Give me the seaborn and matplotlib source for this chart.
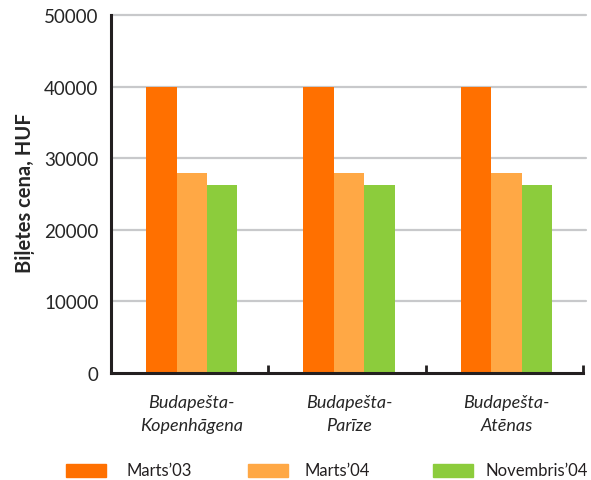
import matplotlib
matplotlib.use("Agg")
import matplotlib.pyplot as plt
import matplotlib.patches as mpatches
import seaborn as sns
import pandas as pd

routes = ["Budapešta-\nKopenhāgena", "Budapešta-\nParīze", "Budapešta-\nAtēnas"]
periods = ["Marts\u201903", "Marts\u201904", "Novembris\u201904"]
marts03 = [40000, 40000, 40000]
marts04 = [28000, 28000, 28000]
nov04 = [26200, 26200, 26200]
colors = ["#FF7000", "#FFA845", "#8CCC3C"]
yticks = [0, 10000, 20000, 30000, 40000, 50000]

rows = []
for series, vals in zip(periods, [marts03, marts04, nov04]):
    for r, v in zip(routes, vals):
        rows.append({"route": r, "period": series, "price": v})
df = pd.DataFrame(rows)

sns.set_style("white")
plt.rcParams["font.family"] = ["Lato", "DejaVu Sans"]

W, H = 591, 481
fig = plt.figure(figsize=(W / 100, H / 100), dpi=100)
ax = fig.add_axes([111 / W, 1 - 374 / H, (583 - 111) / W, (374 - 16) / H])

sns.barplot(data=df, x="route", y="price", hue="period", hue_order=periods,
            palette=colors, width=0.58, saturation=1, ax=ax, legend=False,
            linewidth=0, errorbar=None)

ax.set_ylim(0, 50000)
ax.set_xlim(-0.513, 2.487)
ax.set_yticks(yticks)
ax.set_yticklabels([str(t) for t in yticks], fontsize=13.5)
for t in yticks[1:]:
    ax.axhline(t, xmax=1.006, color="#C8C9CB", lw=1.6, zorder=0, clip_on=False)
ax.tick_params(axis="y", direction="in", length=9.5, width=2.2, color="#231F20", pad=9)

ax.set_xticks([0, 1, 2])
ax.set_xticklabels(routes, fontsize=13, style="italic", linespacing=1.55)
ax.tick_params(axis="x", length=0, pad=15)
# group separators rising from the baseline
for b in [1 / 3, 2 / 3, 1.0]:
    ax.plot([b, b], [0, 0.023], transform=ax.transAxes, color="#231F20", lw=2,
            clip_on=False, zorder=5, solid_capstyle="butt")

for side in ["top", "right"]:
    ax.spines[side].set_visible(False)
for side in ["left", "bottom"]:
    ax.spines[side].set_color("#231F20")
    ax.spines[side].set_linewidth(2.2)

ax.set_xlabel("")
ax.set_ylabel("Biļetes cena, HUF", fontsize=14.5, fontweight="bold")
ax.yaxis.set_label_coords(-0.16, 0.505)

# legend row under the chart
legend_x = [(66, 126), (248, 305), (433, 485)]
for (px, tx), c, p in zip(legend_x, colors, periods):
    fig.patches.append(mpatches.Rectangle((px / W, 1 - 478 / H), 40 / W, 13 / H,
                                          transform=fig.transFigure, color=c,
                                          figure=fig))
    fig.text(tx / W, 1 - 471 / H, p, fontsize=12, va="center", ha="left",
             color="#231F20")

fig.savefig("out.png", dpi=100)
